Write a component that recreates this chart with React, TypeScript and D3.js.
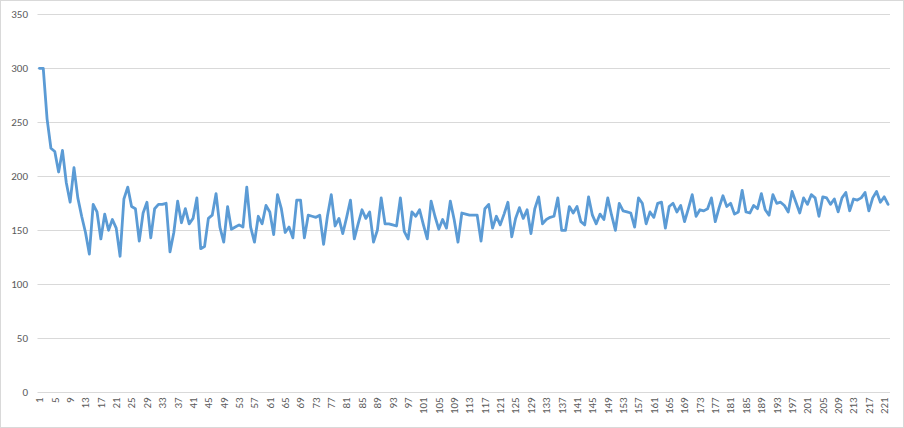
import React from "react";
import * as d3 from "d3";

const values: number[] = [
  300, 300, 253, 226, 223, 204, 224, 194, 176, 208,
  180, 163, 148, 128, 174, 167, 142, 165, 150, 160,
  152, 126, 179, 190, 172, 170, 140, 166, 176, 143,
  170, 174, 174, 175, 130, 148, 177, 157, 170, 156,
  161, 180, 133, 135, 161, 164, 184, 153, 139, 172,
  151, 153, 155, 153, 190, 153, 139, 163, 156, 173,
  167, 146, 183, 170, 148, 153, 143, 178, 178, 143,
  164, 163, 162, 164, 137, 163, 183, 154, 161, 147,
  162, 178, 142, 156, 169, 161, 167, 139, 150, 180,
  156, 156, 155, 154, 180, 149, 142, 167, 163, 169,
  155, 142, 177, 163, 151, 160, 152, 177, 160, 139,
  166, 165, 164, 164, 164, 140, 170, 174, 152, 163,
  155, 165, 176, 144, 161, 171, 161, 169, 147, 170,
  181, 156, 160, 162, 163, 180, 150, 150, 172, 166,
  172, 158, 155, 181, 164, 156, 165, 160, 180, 164,
  150, 175, 168, 167, 166, 153, 180, 175, 156, 167,
  162, 175, 176, 152, 172, 175, 167, 173, 158, 170,
  183, 163, 169, 168, 170, 180, 158, 171, 182, 172,
  175, 165, 167, 187, 167, 166, 173, 170, 184, 169,
  164, 183, 175, 176, 173, 167, 186, 176, 166, 180,
  174, 183, 180, 163, 181, 180, 174, 179, 167, 180,
  185, 168, 179, 178, 180, 185, 168, 180, 186, 176,
  181, 174,
];

const categories: number[] = values.map((_, i) => i + 1);
const yTicks: number[] = [0, 50, 100, 150, 200, 250, 300, 350];
const xTickLabels: number[] = categories.filter((c) => (c - 1) % 4 === 0);

const W = 904;
const H = 428;
const left = 37.5;
const right = 890;
const top = 14.3;
const bottom = 392.3;

export default function App() {
  const x = d3.scaleBand<number>().domain(categories).range([left, right]);
  const y = d3.scaleLinear().domain([0, 350]).range([bottom, top]);
  const cx = (c: number) => (x(c) as number) + x.bandwidth() / 2;
  const line = d3
    .line<number>()
    .x((_, i) => cx(categories[i]))
    .y((d) => y(d));

  const font = "Calibri, Carlito, 'Liberation Sans', Arial, sans-serif";

  return (
    <svg
      width={W}
      height={H}
      style={{ position: "absolute", left: 0, top: 0, background: "#fff" }}
      fontFamily={font}
    >
      <rect x={0.5} y={0.5} width={W - 1} height={H - 1} fill="#fff" stroke="#d9d9d9" />
      {yTicks.map((t) => (
        <g key={t}>
          <line
            x1={left}
            x2={right}
            y1={Math.round(y(t)) + 0.5}
            y2={Math.round(y(t)) + 0.5}
            stroke="#d9d9d9"
            strokeWidth={1}
          />
          <text
            x={28}
            y={y(t)}
            dy="0.35em"
            textAnchor="end"
            fontSize={11}
            fill="#595959"
          >
            {t}
          </text>
        </g>
      ))}
      {xTickLabels.map((c) => (
        <text
          key={c}
          transform={`translate(${cx(c)},${bottom + 5}) rotate(-90)`}
          textAnchor="end"
          dy="0.35em"
          fontSize={11}
          fill="#595959"
        >
          {c}
        </text>
      ))}
      <path
        d={line(values) || ""}
        fill="none"
        stroke="#5b9bd5"
        strokeWidth={2.8}
        strokeLinejoin="round"
        strokeLinecap="round"
      />
    </svg>
  );
}
